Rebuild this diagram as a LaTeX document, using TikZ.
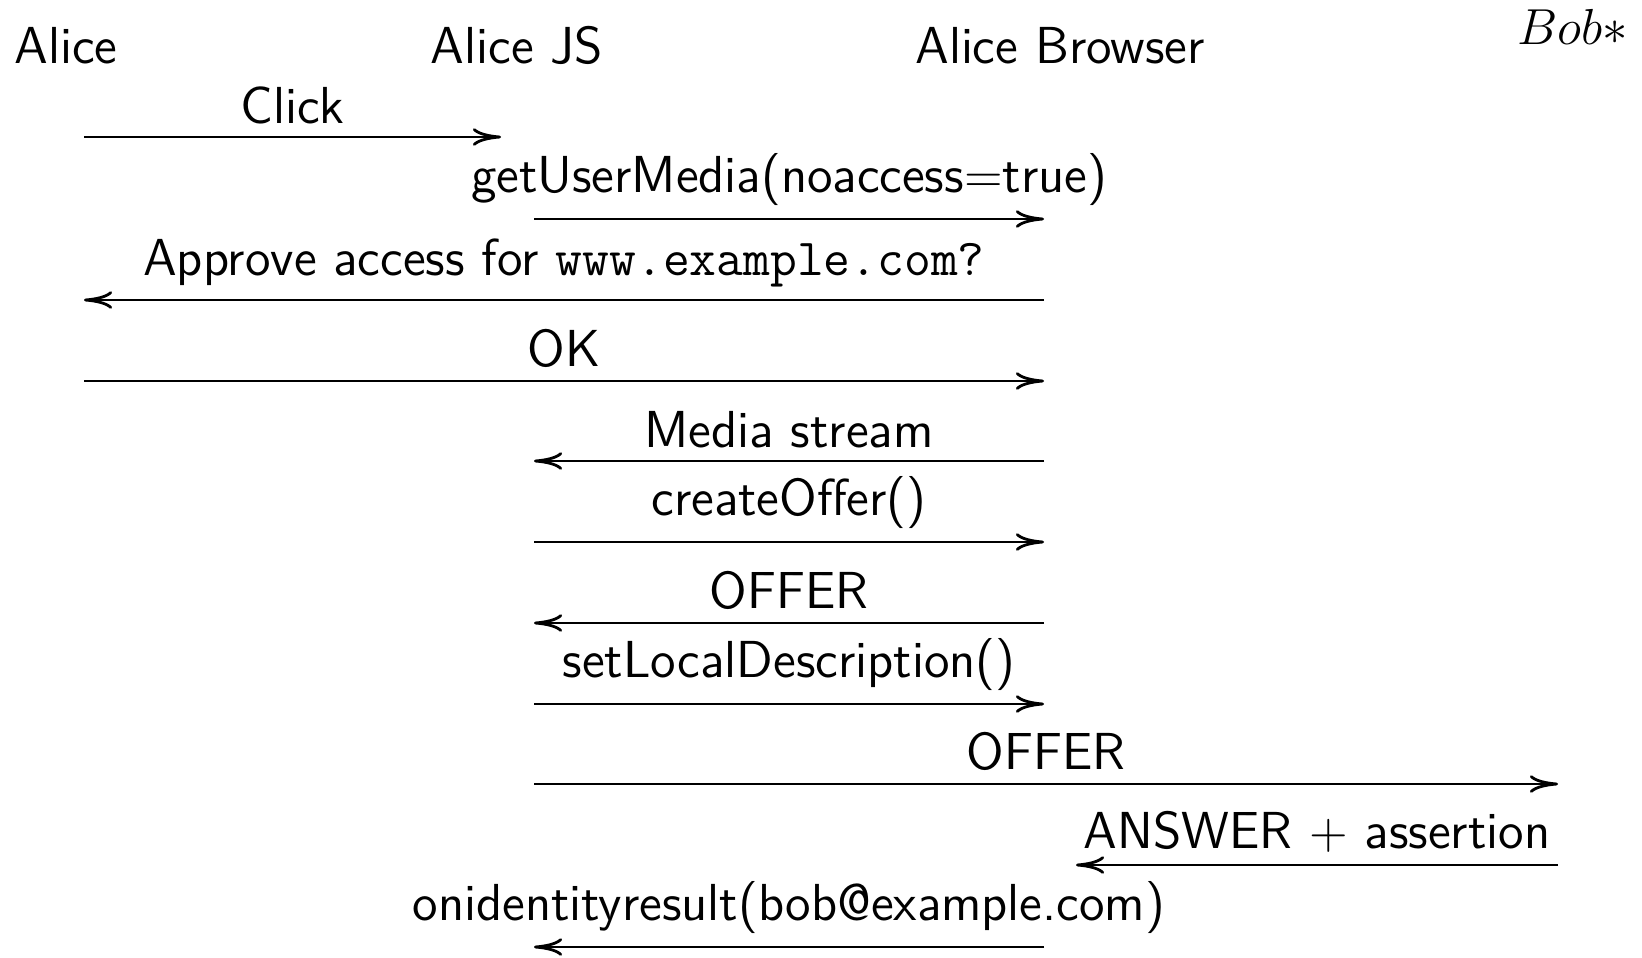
\documentclass[tikz,border=0pt]{standalone}
\usepackage{amssymb,amsmath}
\usepackage{tikz}
\usetikzlibrary{arrows.meta}

\begin{document}
\begin{tikzpicture}[x=0.01cm,y=-0.01cm]
	 \tikzstyle{actor}=[anchor=base,inner sep=0pt,font=\sffamily\fontsize{14.8}{18}\selectfont]
	 \tikzstyle{msg} = [draw,line width=0.8pt,-{To[length=8pt,width=5pt]},black]
	 \tikzstyle{lbl} = [midway,above,font=\sffamily\fontsize{14.8}{18}\selectfont]
	 \useasboundingbox (0,0) rectangle (1642,957);

	 \node[actor] (alice) at (66,63) {Alice};
	 \node[actor] (js) at (517,63) {Alice JS};
	 \node[actor] (browser) at (1060,63) {Alice Browser};
	 \node[actor] (bob) at (1573,44) {$Bob*$};

	 % columns the messages start and stop at
	 \coordinate (ca) at (84,0);
	 \coordinate (cc) at (501,0);
	 \coordinate (cj) at (534,0);
	 \coordinate (cb) at (1044,0);
	 \coordinate (cn) at (1076,0);
	 \coordinate (cbob) at (1558,0);

	 % one row per message
	 \coordinate (r1) at (0,137);
	 \coordinate (r2) at (0,219);
	 \coordinate (r3) at (0,300);
	 \coordinate (r4) at (0,381);
	 \coordinate (r5) at (0,461);
	 \coordinate (r6) at (0,542);
	 \coordinate (r7) at (0,623);
	 \coordinate (r8) at (0,704);
	 \coordinate (r9) at (0,784);
	 \coordinate (r10) at (0,865);
	 \coordinate (r11) at (0,947);

	 \draw[msg] (ca |- r1) -- (cc |- r1) node[lbl] (m1) {Click};
	 \draw[msg] (cj |- r2) -- (cb |- r2) node[lbl] (m2) {getUserMedia(noaccess$=$true)};
	 \draw[msg] (cb |- r3) -- (ca |- r3) node[lbl] (m3) {Approve access for \texttt{www.example.com?}};
	 \draw[msg] (ca |- r4) -- (cb |- r4) node[lbl] (m4) {OK};
	 \draw[msg] (cb |- r5) -- (cj |- r5) node[lbl] (m5) {Media stream};
	 \draw[msg] (cj |- r6) -- (cb |- r6) node[lbl] (m6) {createOffer()};
	 \draw[msg] (cb |- r7) -- (cj |- r7) node[lbl] (m7) {OFFER};
	 \draw[msg] (cj |- r8) -- (cb |- r8) node[lbl] (m8) {setLocalDescription()};
	 \draw[msg] (cj |- r9) -- (cbob |- r9) node[lbl] (m9) {OFFER};
	 \draw[msg] (cbob |- r10) -- (cn |- r10) node[lbl] (m10) {ANSWER $+$ assertion};
	 \draw[msg] (cb |- r11) -- (cj |- r11) node[lbl] (m11) {onidentityresult(bob@example.com)};
 \end{tikzpicture}
\end{document}
